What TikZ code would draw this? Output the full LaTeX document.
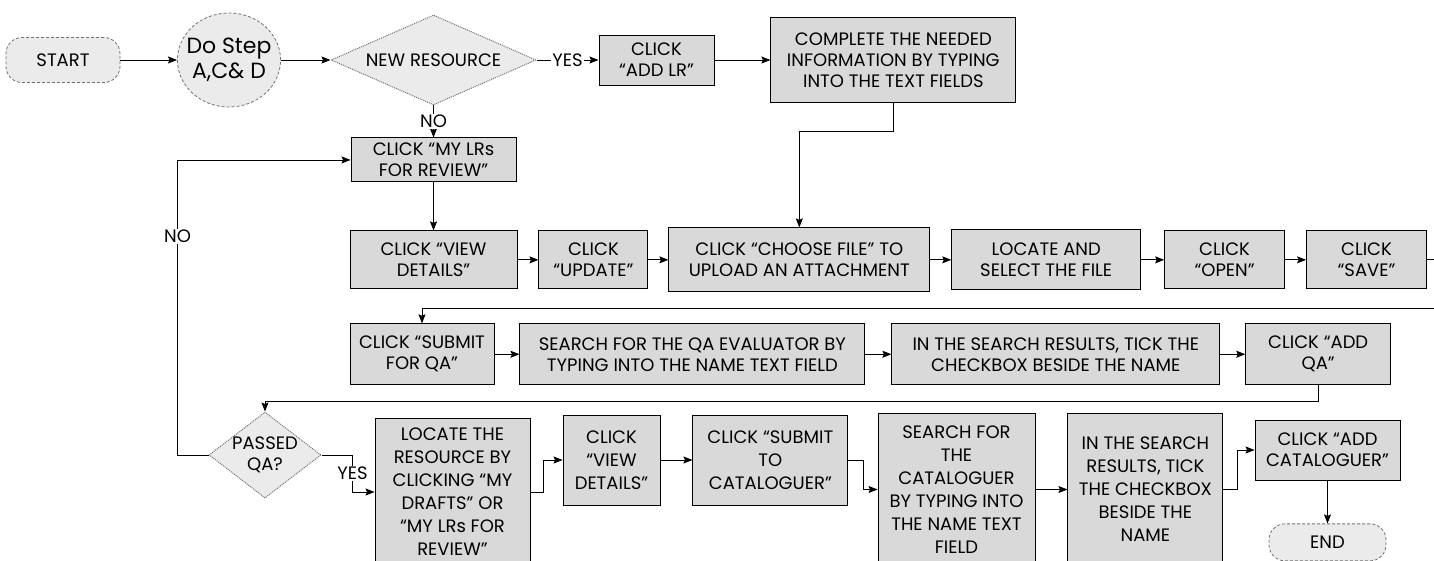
\documentclass[tikz,border=0pt]{standalone}
\usepackage{fontspec}
\setmainfont{Poppins}
\usetikzlibrary{positioning, arrows.meta, shapes.geometric}
\tikzset{
->, % every connector is directed
>={Stealth[length=9pt, width=7pt, inset=1.5pt]}, % filled arrow heads
every node/.style={font=\fontsize{18}{21}\selectfont},
box/.style={draw, line width=0.9pt, fill=black!15, align=center, inner sep=2pt}, % one action
term/.style={draw=black!55, densely dashed, line width=0.8pt, fill=black!8, rounded corners=16pt, align=center}, % start / end
decision/.style={diamond, draw=black!55, densely dotted, line width=1pt, fill=black!8, align=center, inner sep=0pt}, % yes or no
stepcirc/.style={ellipse, draw=black!55, densely dashed, line width=0.8pt, fill=black!8, align=center, inner sep=-6pt, font=\fontsize{22}{25}\selectfont},
lbl/.style={fill=white, inner sep=1pt}, % text on a line
tall/.style={font=\fontsize{18}{23}\selectfont},
}
\begin{document}
\begin{tikzpicture}[x=1pt, y=-1pt, line width=0.8pt]
    \useasboundingbox (0,0) rectangle (1434,561);
    \node[term, minimum width=114pt, minimum height=45pt] (start) at (63,60) {START};
    \node[stepcirc, minimum width=102pt, minimum height=94pt] (dostep) at (229,60) {Do Step\\A,C\& D};
    \node[decision, aspect=2, minimum width=205pt, minimum height=90pt] (newres) at (433.5,60) {NEW RESOURCE};
    \node[box, right=62pt of newres, minimum width=115pt, minimum height=50pt] (addlr) {CLICK\\“ADD LR”};
    \node[box, right=56pt of addlr, minimum width=245pt, minimum height=85pt] (complete) {COMPLETE THE NEEDED\\INFORMATION BY TYPING\\INTO THE TEXT FIELDS};
    \node[box, below=32pt of newres, minimum width=165pt, minimum height=44pt] (mylrs) {CLICK “MY LRs\\FOR REVIEW”};

    \node[box, below=48pt of mylrs, minimum width=167pt, minimum height=58pt] (view) {CLICK “VIEW\\DETAILS”};
    \node[box, right=21pt of view, minimum width=109pt, minimum height=58pt] (update) {CLICK\\“UPDATE”};
    \node[box, right=20pt of update, minimum width=261pt, minimum height=64pt] (choose) {CLICK “CHOOSE FILE” TO\\UPLOAD AN ATTACHMENT};
    \node[box, right=21pt of choose, minimum width=189pt, minimum height=60pt] (locate) {LOCATE AND\\SELECT THE FILE};
    \node[box, right=23pt of locate, minimum width=120pt, minimum height=58pt] (open) {CLICK\\“OPEN”};
    \node[box, right=21pt of open, minimum width=120pt, minimum height=58pt] (save) {CLICK\\“SAVE”};

    \node[box, below=34pt of view.south west, anchor=north west, minimum width=144pt, minimum height=61pt] (submitqa) {CLICK “SUBMIT\\FOR QA”};
    \node[box, right=25pt of submitqa, minimum width=345pt, minimum height=61pt] (searchqa) {SEARCH FOR THE QA EVALUATOR BY\\TYPING INTO THE NAME TEXT FIELD};
    \node[box, right=26pt of searchqa, minimum width=328pt, minimum height=61pt] (tickqa) {IN THE SEARCH RESULTS, TICK THE\\CHECKBOX BESIDE THE NAME};
    \node[box, right=25pt of tickqa, minimum width=145pt, minimum height=61pt] (addqa) {CLICK “ADD\\QA”};

    \node[decision, aspect=1.3, inner sep=-2pt, minimum width=112pt, minimum height=86pt] (passed) at (265,455) {PASSED\\QA?};
    \node[box, tall, minimum width=155pt, minimum height=148pt] (findres) at (452.5,492) {LOCATE THE\\RESOURCE BY\\CLICKING “MY\\DRAFTS” OR\\“MY LRs FOR\\REVIEW”};
    \node[box, tall, minimum width=97pt, minimum height=90pt] (viewcat) at (611.5,460) {CLICK\\“VIEW\\DETAILS”};
    \node[box, tall, right=32pt of viewcat, minimum width=155pt, minimum height=90pt] (submitcat) {CLICK “SUBMIT\\TO\\CATALOGUER”};
    \node[box, tall, minimum width=157pt, minimum height=153pt] (searchcat) at (956.5,489.5) {SEARCH FOR\\THE\\CATALOGUER\\BY TYPING INTO\\THE NAME TEXT\\FIELD};
    \node[box, tall, right=32pt of searchcat, minimum width=155pt, minimum height=153pt] (tickcat) {IN THE SEARCH\\RESULTS, TICK\\THE CHECKBOX\\BESIDE THE\\NAME};
    \node[box, minimum width=145pt, minimum height=60pt] (addcat) at (1327.5,450) {CLICK “ADD\\CATALOGUER”};
    \node[term, below=43pt of addcat, minimum width=117pt, minimum height=37pt] (finish) {END};

    \coordinate (wrap) at (1450,308);

    \draw (start) -- (dostep);
    \draw (dostep) -- (newres);
    \draw (newres.east) -- node[lbl]{YES} (addlr.west);
    \draw (addlr) -- (complete);
    \draw (complete.south) -- ++(0,28) -| (choose.north);
    \draw (newres.south) -- node[lbl]{NO} (mylrs.north);
    \draw (mylrs) -- (view);
    \draw (view) -- (update);
    \draw (update) -- (choose);
    \draw (choose) -- (locate);
    \draw (locate) -- (open);
    \draw (open) -- (save);
    \draw (save.east) -| (wrap) -| (submitqa.north);
    \draw (submitqa) -- (searchqa);
    \draw (searchqa) -- (tickqa);
    \draw (tickqa) -- (addqa);
    \draw (addqa.south) -- ++(0,16) -| (passed.north);
    \draw (passed.west) -- ++(-31,0) |- node[lbl, pos=0.37]{NO} (mylrs.west);
    \draw (passed.east) -- ++(31,0) |- node[lbl, pos=0.25]{YES} (findres.west);
    \draw (findres.east) -- ++(13,0) |- (viewcat.west);
    \draw (viewcat) -- (submitcat);
    \draw (submitcat.east) -- ++(15,0) |- (searchcat.west);
    \draw (searchcat) -- (tickcat);
    \draw (tickcat.east) -- ++(14,0) |- (addcat.west);
    \draw (addcat) -- (finish);
\end{tikzpicture}
\end{document}
